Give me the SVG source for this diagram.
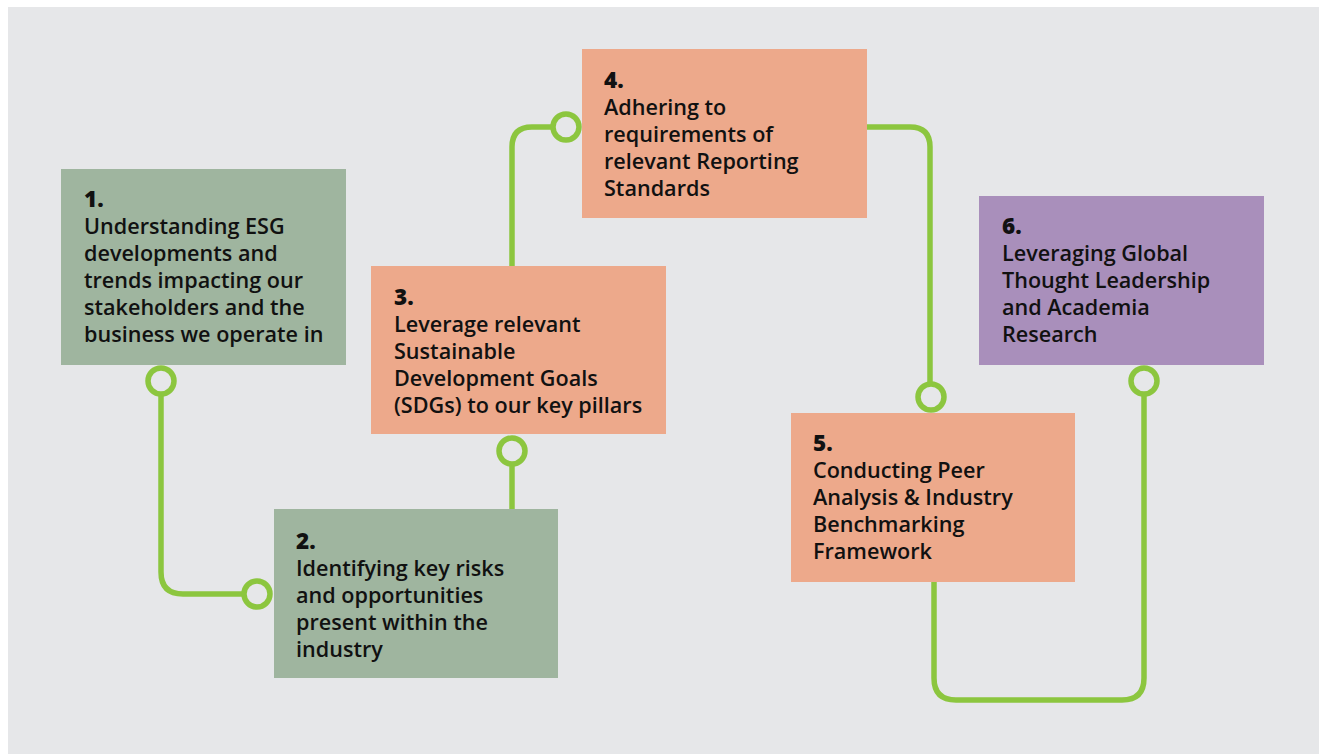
<svg xmlns="http://www.w3.org/2000/svg" width="1319" height="754" viewBox="0 0 1319 754">
<style>
.bg{fill:#ffffff}
.panel{fill:#e6e7e9}
.g{fill:#9fb59f}
.o{fill:#eda98b}
.p{fill:#a98fbb}
.t{font-family:"Open Sans","Noto Sans","Liberation Sans",sans-serif;font-size:21.6px;font-weight:600;fill:#111111}
.n{font-weight:800;font-size:22.5px}
.c{fill:none;stroke:#8cc63f;stroke-width:5.5;stroke-linecap:round;stroke-linejoin:round}
.dot{fill:#e6e7e9;stroke:#8cc63f;stroke-width:5.5}
</style>
<rect class="bg" x="0" y="0" width="1319" height="754"/>
<rect class="panel" x="8" y="7" width="1311" height="747"/>
<g id="connectors">
<path class="c" d="M161 381 V572 Q161 594 183 594 H257"/>
<path class="c" d="M512 451 V509"/>
<path class="c" d="M512 266 V147 Q512 127 532 127 H566"/>
<path class="c" d="M867 127 H910 Q930 127 930 147 V397"/>
<path class="c" d="M934 582 V678 Q934 700 956 700 H1122 Q1144 700 1144 678 V381"/>
</g>
<g id="node1">
<rect class="g" x="61" y="169" width="285" height="196"/>
<text class="t" x="84"><tspan class="n" x="84" y="207">1.</tspan><tspan x="84" y="234">Understanding ESG</tspan><tspan x="84" y="261">developments and</tspan><tspan x="84" y="288">trends impacting our</tspan><tspan x="84" y="315">stakeholders and the</tspan><tspan x="84" y="342">business we operate in</tspan></text>
</g>
<g id="node2">
<rect class="g" x="274" y="509" width="284" height="169"/>
<text class="t"><tspan class="n" x="296" y="549">2.</tspan><tspan x="296" y="576">Identifying key risks</tspan><tspan x="296" y="603">and opportunities</tspan><tspan x="296" y="630">present within the</tspan><tspan x="296" y="657">industry</tspan></text>
</g>
<g id="node3">
<rect class="o" x="371" y="266" width="295" height="168"/>
<text class="t"><tspan class="n" x="394" y="305">3.</tspan><tspan x="394" y="332">Leverage relevant</tspan><tspan x="394" y="359">Sustainable</tspan><tspan x="394" y="386">Development Goals</tspan><tspan x="394" y="413">(SDGs) to our key pillars</tspan></text>
</g>
<g id="node4">
<rect class="o" x="582" y="49" width="285" height="169"/>
<text class="t"><tspan class="n" x="604" y="88">4.</tspan><tspan x="604" y="115">Adhering to</tspan><tspan x="604" y="142">requirements of</tspan><tspan x="604" y="169">relevant Reporting</tspan><tspan x="604" y="196">Standards</tspan></text>
</g>
<g id="node5">
<rect class="o" x="791" y="413" width="284" height="169"/>
<text class="t"><tspan class="n" x="813" y="451">5.</tspan><tspan x="813" y="478">Conducting Peer</tspan><tspan x="813" y="505">Analysis &amp; Industry</tspan><tspan x="813" y="532">Benchmarking</tspan><tspan x="813" y="559">Framework</tspan></text>
</g>
<g id="node6">
<rect class="p" x="979" y="196" width="285" height="169"/>
<text class="t"><tspan class="n" x="1002" y="234">6.</tspan><tspan x="1002" y="261">Leveraging Global</tspan><tspan x="1002" y="288">Thought Leadership</tspan><tspan x="1002" y="315">and Academia</tspan><tspan x="1002" y="342">Research</tspan></text>
</g>
<g id="ports">
<circle class="dot" cx="161" cy="381" r="13"/>
<circle class="dot" cx="257" cy="594" r="13"/>
<circle class="dot" cx="512" cy="451" r="13"/>
<circle class="dot" cx="566" cy="127" r="13"/>
<circle class="dot" cx="931" cy="397" r="13"/>
<circle class="dot" cx="1144" cy="381" r="13"/>
</g>
</svg>
